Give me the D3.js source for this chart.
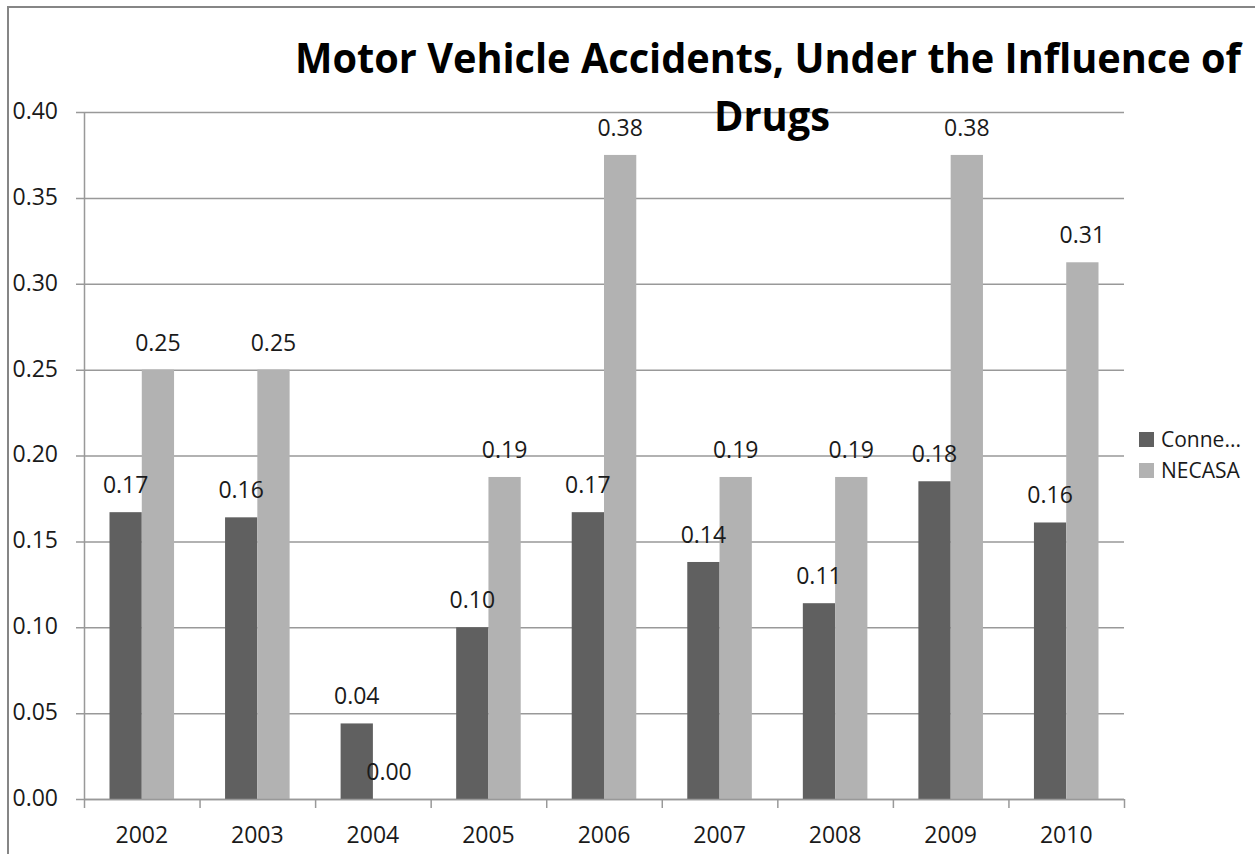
<!DOCTYPE html>
<html>
<head>
<meta charset="utf-8">
<script src="https://cdn.jsdelivr.net/npm/d3@7"></script>
<style>
  body { margin: 0; background: #fff; }
  text { font-family: "Open Sans", sans-serif; fill: #1a1a1a; }
</style>
</head>
<body>
<svg id="chart" width="1255" height="854"></svg>
<script>
// data
var years = ["2002", "2003", "2004", "2005", "2006", "2007", "2008", "2009", "2010"];
var seriesNames = ["Conne...", "NECASA"];
var connValues = [0.167, 0.164, 0.044, 0.100, 0.167, 0.138, 0.114, 0.185, 0.161];
var necasaValues = [0.25, 0.25, 0.00, 0.1875, 0.375, 0.1875, 0.1875, 0.375, 0.3125];
var yTicks = [0, 0.05, 0.10, 0.15, 0.20, 0.25, 0.30, 0.35, 0.40];
var colors = ["#606060", "#b2b2b2"];

var svg = d3.select("#chart");

// outer frame (only left/top visible in the picture)
svg.append("rect").attr("x", 8).attr("y", 7)
    .attr("width", 1300).attr("height", 900)
    .style("fill", "none").style("stroke", "#868686").style("stroke-width", 2);

var plotLeft = 84, plotRight = 1124, plotTop = 112, plotBottom = 799;

var x0 = d3.scaleBand().domain(years).range([plotLeft, plotRight]).padding(0);
var x1 = d3.scaleBand().domain(seriesNames).range([0, x0.bandwidth()])
    .paddingInner(0).paddingOuter(0.79);
var y = d3.scaleLinear().domain([0, 0.4]).range([plotBottom, plotTop]);

// gridlines
svg.append("g").selectAll("line").data(yTicks).enter().append("line")
    .attr("x1", plotLeft - 8).attr("x2", plotRight)
    .attr("y1", function(d) { return y(d) + 0.5; })
    .attr("y2", function(d) { return y(d) + 0.5; })
    .style("stroke", "#999").style("stroke-width", 1.5);

// y axis labels
var yAxis = d3.axisLeft(y).tickValues(yTicks).tickFormat(d3.format(".2f"))
    .tickSize(0).tickPadding(26);
var gy = svg.append("g").attr("transform", "translate(" + plotLeft + ",0)").call(yAxis);
gy.select(".domain").remove();
gy.selectAll("text").style("font-size", "23px").style("font-family", "Open Sans")
    .style("fill", "#1a1a1a").attr("dy", "0.28em");

// y axis line
svg.append("line").attr("x1", plotLeft + 0.5).attr("x2", plotLeft + 0.5)
    .attr("y1", plotTop).attr("y2", plotBottom)
    .style("stroke", "#999").style("stroke-width", 1.5);

// bars
var groups = svg.append("g").selectAll("g").data(years).enter().append("g")
    .attr("transform", function(d) { return "translate(" + x0(d) + ",0)"; });

var rows = function(d, i) {
    return [{ name: seriesNames[0], value: connValues[i], c: 0 },
            { name: seriesNames[1], value: necasaValues[i], c: 1 }];
};

groups.selectAll("rect").data(rows).enter().append("rect")
    .attr("x", function(d) { return x1(d.name); })
    .attr("y", function(d) { return y(d.value); })
    .attr("width", x1.bandwidth())
    .attr("height", function(d) { return plotBottom - y(d.value); })
    .style("fill", function(d) { return colors[d.c]; });

groups.selectAll("text.lbl").data(rows).enter().append("text")
    .attr("class", "lbl")
    .attr("x", function(d) { return x1(d.name) + x1.bandwidth() / 2; })
    .attr("y", function(d) { return y(d.value) - 19; })
    .attr("text-anchor", "middle")
    .style("font-size", "23px")
    .text(function(d) { return d3.format(".2f")(d.value); });

// x axis line + ticks at band edges
svg.append("line").attr("x1", plotLeft).attr("x2", plotRight)
    .attr("y1", plotBottom + 0.5).attr("y2", plotBottom + 0.5)
    .style("stroke", "#999").style("stroke-width", 1.5);
var edges = years.map(function(d) { return x0(d); }).concat([x0.range()[1]]);
svg.append("g").selectAll("line").data(edges).enter().append("line")
    .attr("x1", function(d) { return d + 0.5; }).attr("x2", function(d) { return d + 0.5; })
    .attr("y1", plotBottom).attr("y2", plotBottom + 9)
    .style("stroke", "#999").style("stroke-width", 1.5);

var xAxis = d3.axisBottom(x0).tickSize(0).tickPadding(28);
var gx = svg.append("g").attr("transform", "translate(0," + plotBottom + ")").call(xAxis);
gx.select(".domain").remove();
gx.selectAll("text").style("font-size", "23px").style("font-family", "Open Sans")
    .style("fill", "#1a1a1a");

// title
svg.append("text").attr("x", 768).attr("y", 73).attr("text-anchor", "middle")
    .attr("textLength", 946).attr("lengthAdjust", "spacingAndGlyphs")
    .style("font-size", "42px").style("font-weight", "bold").style("fill", "#000")
    .text("Motor Vehicle Accidents, Under the Influence of");
svg.append("text").attr("x", 772).attr("y", 131).attr("text-anchor", "middle")
    .attr("textLength", 116).attr("lengthAdjust", "spacingAndGlyphs")
    .style("font-size", "42px").style("font-weight", "bold").style("fill", "#000")
    .text("Drugs");

// legend
var legend = svg.append("g").selectAll("g").data(seriesNames).enter().append("g")
    .attr("transform", function(d, i) { return "translate(1139," + (432 + i * 31) + ")"; });
legend.append("rect").attr("width", 15).attr("height", 15)
    .style("fill", function(d, i) { return colors[i]; });
legend.append("text").attr("x", 22).attr("y", 15)
    .style("font-size", "21px").text(function(d) { return d; });
</script>
</body>
</html>
